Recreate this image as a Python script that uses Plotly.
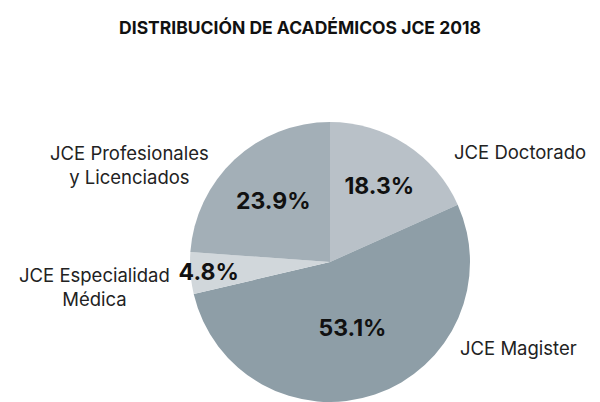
import plotly.graph_objects as go

categories = ["JCE Doctorado", "JCE Magister", "JCE Especialidad Médica", "JCE Profesionales y Licenciados"]
label_lines = ["JCE Doctorado", "JCE Magister", "JCE Especialidad<br>Médica", "JCE Profesionales<br>y Licenciados"]
values = [18.3, 53.1, 4.8, 23.9]
colors = ["#b9c1c8", "#8e9ea7", "#d1d7db", "#a3afb7"]

FONT = "Inter"

fig = go.Figure()
fig.add_trace(go.Pie(
    labels=categories,
    values=values,
    sort=False,
    direction="clockwise",
    rotation=0,
    marker=dict(colors=colors, line=dict(width=0)),
    texttemplate="<b>%{value:.1f}%</b>",
    textposition="inside",
    insidetextorientation="horizontal",
    textfont=dict(family=FONT, size=23, color="#111111"),
    domain=dict(x=[190/600, 470/600], y=[0, 280/402]),
    hoverinfo="label+value",
    showlegend=False,
))

# outside labels
label_pos = [
    dict(x=452, y=152, xanchor="left"),
    dict(x=458, y=348, xanchor="left"),
    dict(x=94, y=287, xanchor="center"),
    dict(x=129, y=165, xanchor="center"),
]
for txt, p in zip(label_lines, label_pos):
    fig.add_annotation(
        text=txt, x=p["x"] / 600, y=1 - p["y"] / 402, xref="paper", yref="paper",
        xanchor=p["xanchor"], yanchor="middle",
        showarrow=False, align="center",
        font=dict(family=FONT, size=18.5, color="#222222"),
    )

fig.update_layout(
    width=600, height=402,
    margin=dict(l=0, r=0, t=0, b=0),
    paper_bgcolor="white", plot_bgcolor="white",
    uniformtext=dict(minsize=23, mode="show"),
    title=dict(text="<b>DISTRIBUCIÓN DE ACADÉMICOS JCE 2018</b>", x=0.5, xanchor="center",
               y=1 - 28/402, yanchor="middle",
               font=dict(family=FONT, size=17.5, color="#111111")),
)

fig.write_html("out.html")
